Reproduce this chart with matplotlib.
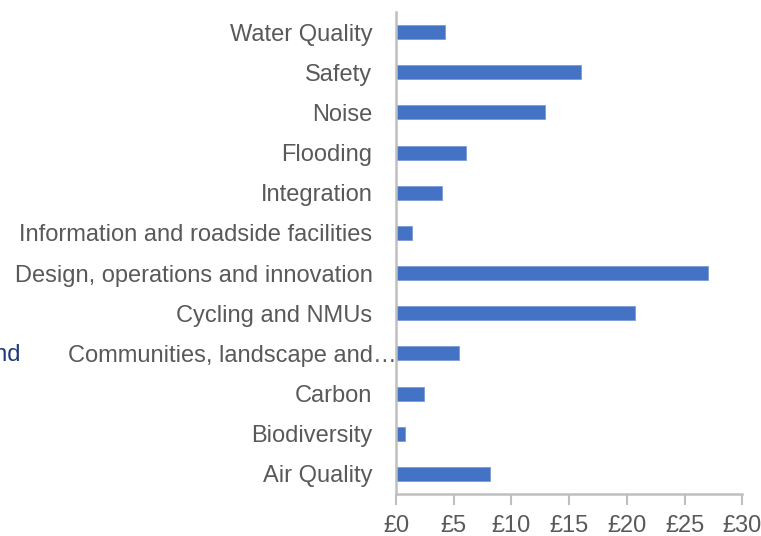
import matplotlib.pyplot as plt
import matplotlib.transforms as mtransforms

# categories listed bottom to top
categories = ["Air Quality", "Biodiversity", "Carbon", "Communities, landscape and\u2026",
              "Cycling and NMUs", "Design, operations and innovation",
              "Information and roadside facilities", "Integration", "Flooding",
              "Noise", "Safety", "Water Quality"]
values = [8.1, 0.8, 2.4, 5.5, 20.7, 27.0, 1.35, 3.95, 6.05, 12.9, 16.0, 4.25]
xticks = [0, 5, 10, 15, 20, 25, 30]
xtick_labels = ["\u00a3%d" % t for t in xticks]

plt.rcParams['font.family'] = ['Liberation Sans', 'DejaVu Sans']

fig = plt.figure(figsize=(7.61, 5.36), dpi=100)
ax = fig.add_axes([396 / 761, 42 / 536, 346.3 / 761, 482 / 536])

ax.barh(range(len(categories)), values, height=0.35, color="#4472C4",
        edgecolor="#7a9ad6", linewidth=0.6)

ax.set_xlim(0, 30)
ax.set_ylim(-0.5, len(categories) - 0.5)
ax.set_yticks(range(len(categories)))
ax.set_yticklabels(categories)
ax.set_xticks(xticks)
ax.set_xticklabels(xtick_labels)

for s in ["top", "right"]:
    ax.spines[s].set_visible(False)
for s in ["left", "bottom"]:
    ax.spines[s].set_color("#BFBFBF")
    ax.spines[s].set_linewidth(1.8)

ax.tick_params(axis="y", length=0, pad=17, labelsize=17, labelcolor="#595959")
ax.tick_params(axis="x", length=8, width=1.5, color="#BFBFBF", pad=7,
               labelsize=17, labelcolor="#595959")

# the truncated label runs right up to the axis line
lab = ax.get_yticklabels()[3]
lab.set_transform(lab.get_transform() +
                  mtransforms.ScaledTranslation(0.24, 0, fig.dpi_scale_trans))

# clipped label from a neighbouring chart
fig.text(20 / 761, 1 - 355 / 536, "and", ha="right", va="center",
         fontsize=17, color="#1F3A7A")

fig.savefig("out.png", dpi=100)
